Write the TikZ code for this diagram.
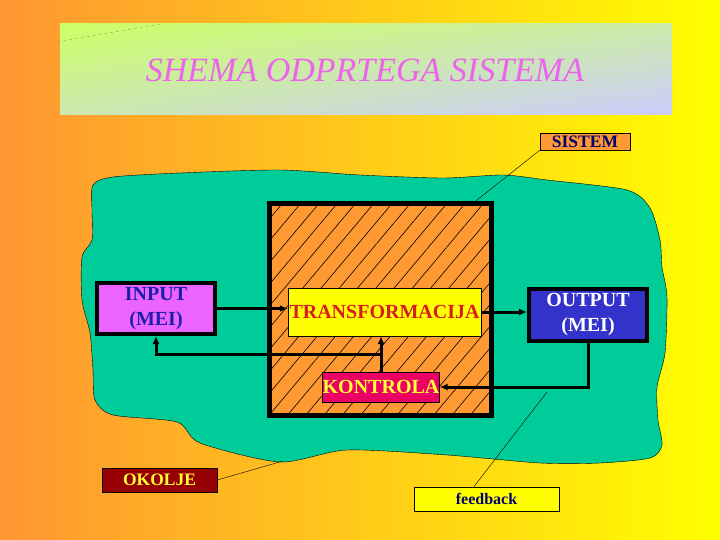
\documentclass[tikz,border=0pt]{standalone}
\usepackage{fontspec}
\setmainfont{Liberation Serif}
\usetikzlibrary{arrows.meta, patterns.meta, calc, shadings}

\definecolor{bgorange}{RGB}{255,150,50}
\definecolor{bgyellow}{RGB}{255,255,0}
\definecolor{titlegreen}{RGB}{204,255,102}
\definecolor{titlemixtop}{RGB}{204,235,170}
\definecolor{titlemixlow}{RGB}{204,232,175}
\definecolor{titlelilac}{RGB}{204,204,255}
\definecolor{titlepink}{RGB}{235,100,235}
\definecolor{blobgreen}{RGB}{0,204,153}
\definecolor{boxorange}{RGB}{255,153,51}
\definecolor{transfred}{RGB}{215,30,30}
\definecolor{kontrolared}{RGB}{235,0,100}
\definecolor{labelyellow}{RGB}{255,255,51}
\definecolor{inputviolet}{RGB}{235,100,255}
\definecolor{inputblue}{RGB}{30,30,170}
\definecolor{outputblue}{RGB}{51,51,204}
\definecolor{sistemnavy}{RGB}{0,0,110}
\definecolor{okoljered}{RGB}{150,0,0}
\definecolor{dashline}{RGB}{170,160,60}

\begin{document}
\begin{tikzpicture}[x=1pt, y=-1pt,
    block/.style={draw, line width=4pt, align=center, inner sep=0pt,
        font=\fontsize{20}{25}\selectfont\bfseries},
    inbox/.style={draw, thin, inner sep=0pt, font=\fontsize{20}{22}\selectfont\bfseries},
    tag/.style={draw, thin, inner sep=0pt, font=\fontsize{17.5}{18}\selectfont\bfseries},
    flow/.style={line width=3pt, -{Latex[length=8pt,width=7pt]}},
    pointer/.style={thin}]
        \useasboundingbox (0,0) rectangle (720,540);

        % background and title
        \shade[left color=bgorange, right color=bgyellow] (0,0) rectangle (720,540);
        \shade[upper left=titlegreen, upper right=titlemixtop, lower left=titlemixlow, lower right=titlelilac]
            (60,24) rectangle (672,115);
        \draw[dashline, dashed] (57,42) -- (160,24);
        \node (title) [text=titlepink, font=\fontsize{34}{40}\selectfont\itshape] at (365,70) {SHEMA ODPRTEGA SISTEMA};

        % environment (okolje) around the system
        \draw[fill=blobgreen, thin] plot[smooth cycle, tension=0.45] coordinates {
            (93,185) (113,177) (180,173) (280,170) (360,175) (443,178) (503,175)
            (547,180) (627,190) (650,208) (660,240) (662,267) (667,297) (665,353)
            (657,387) (658,420) (662,445) (650,458) (600,463) (540,463) (447,455)
            (347,450) (280,462) (200,443) (177,422) (113,415) (95,400) (93,370)
            (90,333) (82,300) (82,257) (92,240) (92,210)};

        % system box
        \node (sysbox) [draw, line width=5pt, minimum width=222pt, minimum height=211pt,
            preaction={fill=boxorange}, pattern={Lines[angle=50, distance=14pt, line width=0.6pt]}]
            at (380,309.5) {};

        %blocks
        \node (transf) [inbox, fill=bgyellow, text=transfred, minimum width=193pt, minimum height=48pt]
            at (384.5,312) {TRANSFORMACIJA};
        \node (kontrola) [inbox, fill=kontrolared, text=labelyellow, minimum width=114pt, minimum height=30pt]
            at (381,387) {KONTROLA};
        \node (input) [block, fill=inputviolet, text=inputblue, minimum width=118pt, minimum height=51pt]
            at (156,308.5) {INPUT\\(MEI)};
        \node (output) [block, fill=outputblue, text=white, minimum width=118pt, minimum height=52pt]
            at (588,315) {OUTPUT\\(MEI)};

        %arrows
        \draw[flow] (input.east) -- (input.east -| transf.west);
        \draw[flow] (transf.east) -- (transf.east -| output.west);
        \draw[flow] (output.south) |- (kontrola.east);
        \draw[flow] (kontrola.north) -- (transf.south -| kontrola.north);
        \coordinate (split) at ($(kontrola.north)!0.5!(transf.south -| kontrola.north)$);
        \draw[flow] (split) -| (input.south);

        % labels
        \node (sistem) [tag, fill=boxorange, text=sistemnavy, minimum width=90pt, minimum height=17pt]
            at (585,141.5) {SISTEM};
        \node (okolje) [tag, fill=okoljered, text=labelyellow, minimum width=115pt, minimum height=24pt]
            at (159.5,480) {OKOLJE};
        \node (feedback) [tag, fill=bgyellow, text=sistemnavy, minimum width=145pt, minimum height=24pt,
            font=\fontsize{16}{18}\selectfont\bfseries]
            at (486.5,499) {feedback};

        \coordinate (systouch) at (472,204);
        \coordinate (blobtouch) at (283,461);
        \coordinate (looptouch) at (547,392);
        \draw[pointer] (sistem.south west) -- (systouch);
        \draw[pointer] (okolje.east) -- (blobtouch);
        \draw[pointer] ([xshift=60pt]feedback.north west) -- (looptouch);
    \end{tikzpicture}
\end{document}
